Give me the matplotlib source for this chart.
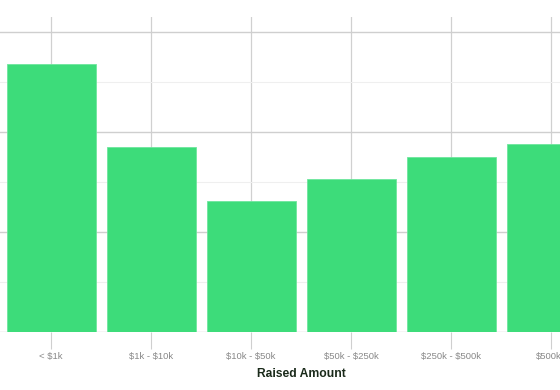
import matplotlib.pyplot as plt
from matplotlib.ticker import MultipleLocator

plt.rcParams['font.family'] = ['Liberation Sans', 'DejaVu Sans']
plt.rcParams['text.parse_math'] = False  # 标签里有 $，不要当成公式

# 数据
categories = ['< $1k', '$1k - $10k', '$10k - $50k', '$50k - $250k', '$250k - $500k', '$500k+']
values = [13.4, 9.25, 6.55, 7.65, 8.75, 9.4]

fig = plt.figure(figsize=(5.6, 3.9), dpi=100)
# 坐标轴超出画布右侧，和参考图一样被裁掉
ax = fig.add_axes([0.0, 0.1487, 1.075, 0.8077])
ax.set_axisbelow(True)

x = range(len(categories))
ax.bar(x, values, width=0.89, color='#3ddc7a', edgecolor='#6ee69d', linewidth=0.6, zorder=2)

ax.set_xlim(-0.51, 5.51)
ax.set_ylim(0, 15.75)
ax.set_xticks(list(x))
ax.set_xticklabels(categories)

ax.yaxis.set_major_locator(MultipleLocator(5))
ax.yaxis.set_minor_locator(MultipleLocator(2.5))
ax.grid(axis='y', which='major', color='#cfcfcf', linewidth=1.0)
ax.grid(axis='y', which='minor', color='#efefef', linewidth=0.8)
ax.grid(axis='x', which='major', color='#d0d0d0', linewidth=0.9)

for s in ax.spines.values():
    s.set_visible(False)

ax.tick_params(axis='x', length=12.5, width=0.8, color='#cfcfcf', pad=2,
               labelsize=6.8, labelcolor='#888888')
ax.tick_params(axis='y', which='both', left=False, labelleft=False)

ax.set_xlabel('Raised Amount', fontsize=8.7, fontweight='bold', color='#1a2a1a', labelpad=5)

fig.savefig('out.png', dpi=100)
